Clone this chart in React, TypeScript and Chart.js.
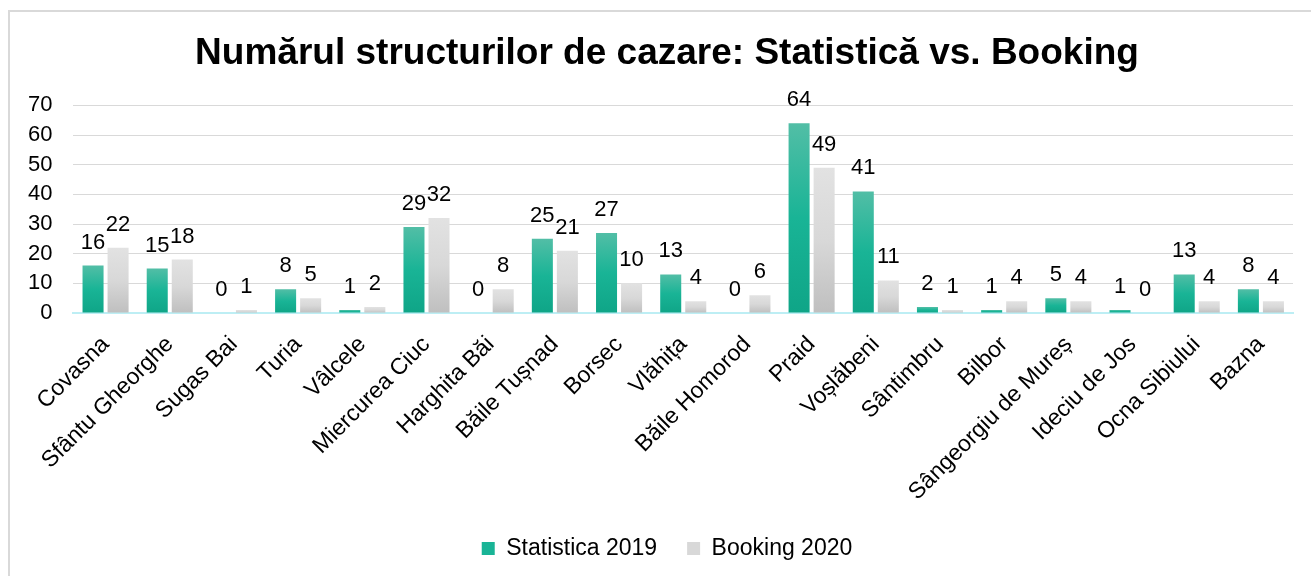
import React, { useEffect, useRef } from "react";
import { Chart, registerables } from "chart.js";

Chart.register(...registerables);

const categories = [
  "Covasna", "Sfântu Gheorghe", "Sugas Bai", "Turia", "Vâlcele", "Miercurea Ciuc",
  "Harghita Băi", "Băile Tușnad", "Borsec", "Vlăhița", "Băile Homorod", "Praid",
  "Voșlăbeni", "Sântimbru", "Bilbor", "Sângeorgiu de Mureș", "Ideciu de Jos",
  "Ocna Sibiului", "Bazna",
];
const statistica2019 = [16, 15, 0, 8, 1, 29, 0, 25, 27, 13, 0, 64, 41, 2, 1, 5, 1, 13, 8];
const booking2020 = [22, 18, 1, 5, 2, 32, 8, 21, 10, 4, 6, 49, 11, 1, 4, 4, 0, 4, 4];
const yTicks = [0, 10, 20, 30, 40, 50, 60, 70];
const seriesNames = ["Statistica 2019", "Booking 2020"];

const FONT = "'Liberation Sans', Arial, Helvetica, sans-serif";
const greenStops = ["#52bea6", "#19b496", "#0fa587"];
const grayStops = ["#e2e2e2", "#d8d8d8", "#bfbfbf"];

function gradientFill(stops: string[]) {
  return (ctx: any) => {
    const chart = ctx.chart;
    const y = chart.scales && chart.scales.y;
    if (!chart.chartArea || !y || ctx.type !== "data") return stops[1];
    const top = y.getPixelForValue(ctx.raw);
    const bottom = y.getPixelForValue(0);
    if (!isFinite(top) || !isFinite(bottom) || bottom - top < 1) return stops[1];
    const g = chart.ctx.createLinearGradient(0, top, 0, bottom);
    g.addColorStop(0, stops[0]);
    g.addColorStop(0.5, stops[1]);
    g.addColorStop(1, stops[2]);
    return g;
  };
}

const dataLabels = {
  id: "dataLabels",
  afterDatasetsDraw(chart: any) {
    const ctx = chart.ctx;
    ctx.save();
    ctx.font = `22px ${FONT}`;
    ctx.fillStyle = "#000";
    ctx.textAlign = "center";
    ctx.textBaseline = "alphabetic";
    chart.data.datasets.forEach((ds: any, i: number) => {
      const meta = chart.getDatasetMeta(i);
      meta.data.forEach((bar: any, j: number) => {
        ctx.fillText(String(ds.data[j]), bar.x, bar.y - 17);
      });
    });
    ctx.restore();
  },
};

const CANVAS_W = 1327;
const CANVAS_H = 576;

export default function App() {
  const ref = useRef<HTMLCanvasElement>(null);
  useEffect(() => {
    if (!ref.current) return;
    const chart = new Chart(ref.current, {
      type: "bar",
      data: {
        labels: categories,
        datasets: [
          {
            label: seriesNames[0],
            data: statistica2019,
            backgroundColor: gradientFill(greenStops),
            barPercentage: 0.84,
            categoryPercentage: 0.78,
          },
          {
            label: seriesNames[1],
            data: booking2020,
            backgroundColor: gradientFill(grayStops),
            barPercentage: 0.84,
            categoryPercentage: 0.78,
          },
        ],
      },
      options: {
        animation: false,
        responsive: false,
        maintainAspectRatio: false,
        layout: { padding: { top: 32, left: 7, right: 0, bottom: 6 } },
        plugins: {
          title: {
            display: true,
            text: "Numărul structurilor de cazare: Statistică vs. Booking",
            color: "#000",
            font: { family: FONT, size: 37, weight: "bold" },
            padding: { top: 0, bottom: 29 },
          },
          legend: {
            position: "bottom",
            labels: {
              color: "#000",
              font: { family: FONT, size: 23 },
              boxWidth: 13,
              boxHeight: 13,
              padding: 30,
              generateLabels: () => [
                { text: seriesNames[0], fillStyle: greenStops[1], strokeStyle: greenStops[1], lineWidth: 0, datasetIndex: 0, fontColor: "#000" },
                { text: seriesNames[1], fillStyle: grayStops[1], strokeStyle: grayStops[1], lineWidth: 0, datasetIndex: 1, fontColor: "#000" },
              ],
            },
          },
          tooltip: { enabled: false },
        },
        scales: {
          x: {
            grid: { display: false },
            border: { display: true, color: "#bdeef4", width: 2 },
            ticks: {
              color: "#000",
              font: { family: FONT, size: 23 },
              maxRotation: 45,
              minRotation: 45,
              autoSkip: false,
              padding: 10,
            },
            afterFit: (scale: any) => {
              scale.height = 194;
            },
          },
          y: {
            min: 0,
            max: 70,
            afterBuildTicks: (scale: any) => {
              scale.ticks = yTicks.map((v) => ({ value: v }));
            },
            grid: {
              color: (c: any) => (c.tick && c.tick.value === 0 ? "rgba(0,0,0,0)" : "#d9d9d9"),
              lineWidth: 1,
              drawTicks: false,
            },
            border: { display: false },
            ticks: {
              color: "#000",
              font: { family: FONT, size: 22 },
              padding: 21,
              autoSkip: false,
            },
          },
          yRightSpacer: {
            type: "linear",
            position: "right",
            display: true,
            min: 0,
            max: 70,
            grid: { display: false, drawTicks: false },
            border: { display: false },
            ticks: { display: false },
            afterFit: (scale: any) => {
              scale.width = 34;
            },
          },
        },
      },
      plugins: [dataLabels],
    });
    return () => chart.destroy();
  }, []);

  return (
    <div style={{ position: "fixed", left: 0, top: 0, width: 1311, height: 576, overflow: "hidden", background: "#fff" }}>
      <div
        style={{
          position: "absolute",
          left: 8,
          top: 10,
          width: 1400,
          height: 700,
          borderLeft: "2px solid #d9d9d9",
          borderTop: "2px solid #d9d9d9",
        }}
      />
      <canvas
        ref={ref}
        width={CANVAS_W}
        height={CANVAS_H}
        style={{ position: "absolute", left: 0, top: 0, width: CANVAS_W, height: CANVAS_H }}
      />
    </div>
  );
}
